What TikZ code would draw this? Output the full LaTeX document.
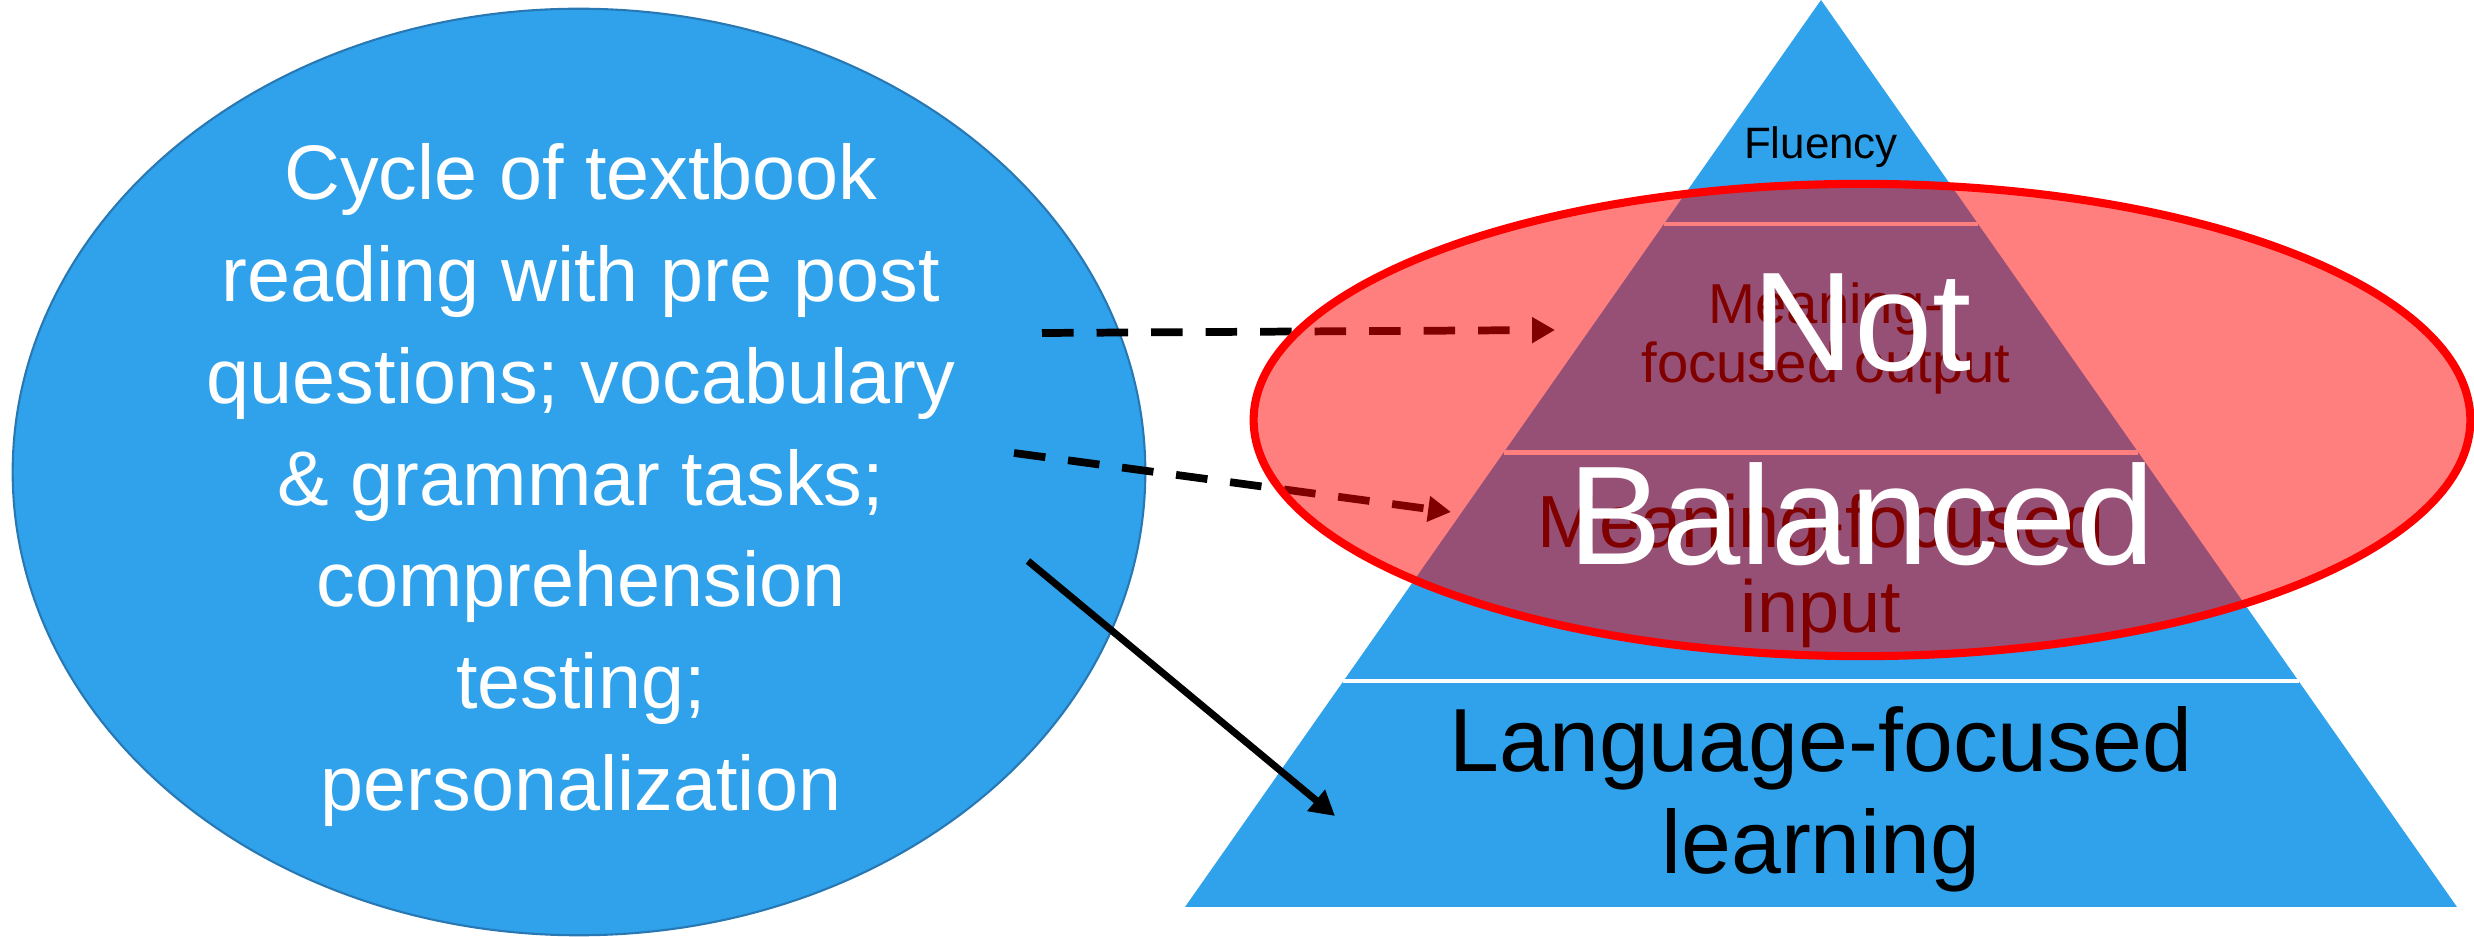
\documentclass[tikz,border=0pt]{standalone}
\usepackage{fontspec}
\setmainfont{Liberation Sans}
\usetikzlibrary{shapes.geometric,arrows.meta,calc}
\definecolor{pyrblue}{RGB}{48,162,235}
\definecolor{rimblue}{RGB}{40,120,180}
\tikzset{
  link/.style={line width=2pt,-{Triangle[length=7pt,width=7.5pt]}},
  dashlink/.style={line width=2.2pt,dash pattern=on 9pt off 6.5pt,-{Triangle[length=6.5pt,width=7pt]}},
  layertext/.style={align=center,text=black,inner sep=0pt}
}

\begin{document}
\begin{tikzpicture}[x=0.01cm,y=-0.01cm]
      \useasboundingbox (0,0) rectangle (2474,937);
      % left: what the course does
      \node at (579,472)[ellipse, draw=rimblue, line width=0.6pt, fill=pyrblue, minimum width=11.32cm, minimum height=9.26cm] (cycle) {};
      \node at (581,485)[align=center, text=white, inner sep=0pt, font=\fontsize{22}{29}\selectfont] (cycletext) {Cycle of textbook\\reading with pre post\\questions; vocabulary\\\& grammar tasks;\\comprehension\\testing;\\personalization};
      % right: the four strands
      \coordinate (top) at (1821,0);
      \coordinate (baseL) at (1185,907);
      \coordinate (baseR) at (2457,907);
      \fill[pyrblue] (top) -- (baseL) -- (baseR) -- cycle;
      \foreach \f in {0.247, 0.499, 0.751} {
          \draw[white, line width=1.2pt] ($(top)!\f!(baseL)$) -- ($(top)!\f!(baseR)$);
      }
      \node at (1821,147)[layertext, font=\fontsize{12.5}{15}\selectfont] (fluency) {Fluency};
      \node at (1826,338)[layertext, font=\fontsize{16}{16.8}\selectfont] (output) {Meaning-\\focused output};
      \node at (1821,571)[layertext, font=\fontsize{21}{24.2}\selectfont] (input) {Meaning-focused\\input};
      \node at (1821,799)[layertext, font=\fontsize{25.5}{29}\selectfont] (language) {Language-focused\\learning};
      \coordinate (from1) at (1042,333);
      \coordinate (to1) at (1555,330);
      \coordinate (from2) at (1014,453);
      \coordinate (to2) at (1451,512);
      \coordinate (from3) at (1028,561);
      \coordinate (to3) at (1335,816);
      \draw[dashlink] (from1) -- (to1);
      \draw[dashlink] (from2) -- (to2);
      \draw[link] (from3) -- (to3);
      \node at (1862,420)[ellipse, draw=red, line width=2.3pt, fill=red, fill opacity=0.5, text opacity=1, text=white, minimum width=12.16cm, minimum height=4.72cm, align=center, inner sep=0pt, font=\fontsize{40}{55}\selectfont] (verdict) {Not\\Balanced};
\end{tikzpicture}
\end{document}
